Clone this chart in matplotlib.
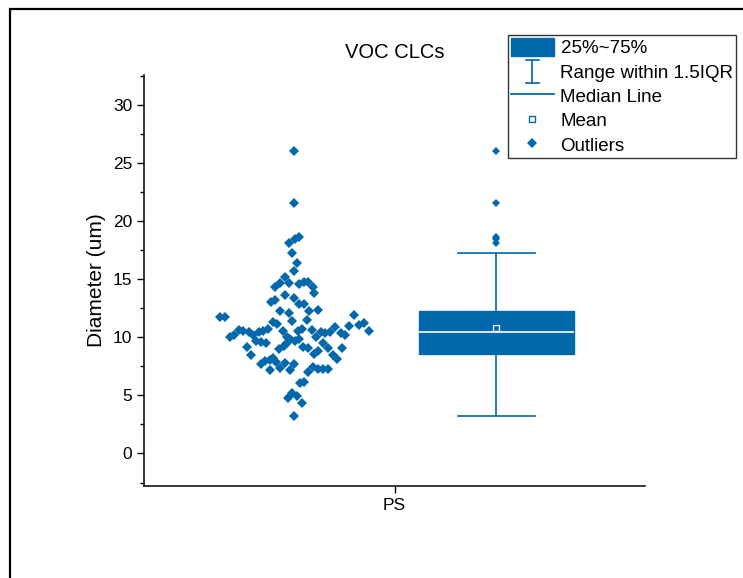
import matplotlib
matplotlib.use("Agg")
import matplotlib.pyplot as plt
import matplotlib.patches as mpatches
from matplotlib.lines import Line2D
from matplotlib.legend_handler import HandlerBase
import numpy as np

plt.rcParams['font.family'] = ['Liberation Sans', 'DejaVu Sans']

# data
category = "PS"
diameter = [
    26.08, 21.57, 18.61, 18.48, 18.10, 17.27, 16.44, 15.71, 15.23, 14.31,
    14.69, 14.66, 14.60, 14.74, 14.74, 14.37, 13.83, 13.68, 13.40, 13.02,
    13.23, 12.88, 12.88, 12.31, 12.07, 12.31, 12.37, 11.45, 11.53, 11.94,
    11.79, 11.79, 11.30, 11.16, 10.59, 10.59, 10.73, 10.65, 10.44, 10.35,
    10.44, 10.93, 10.35, 10.22, 11.02, 11.10, 11.21, 10.53, 10.65, 10.59,
    10.44, 10.24, 10.44, 10.59, 10.73, 10.07, 10.22, 9.72, 9.64, 9.49,
    10.07, 9.87, 9.72, 9.87, 10.01, 9.49, 9.10, 9.06, 9.21, 8.52,
    9.01, 9.29, 9.49, 9.21, 9.10, 8.58, 8.80, 8.52, 8.15, 7.72,
    7.94, 8.06, 8.24, 7.86, 7.23, 7.38, 7.77, 7.20, 7.72, 7.00,
    7.43, 7.29, 7.29, 7.29, 6.05, 6.14, 4.79, 5.19, 4.91, 4.36,
    3.27,
]
# horizontal spread of the data points (category units)
spread = [
    0.000, 0.000, 0.010, 0.002, -0.010, -0.005, 0.005, 0.000, -0.019, -0.038,
    -0.028, -0.010, 0.010, 0.020, 0.028, 0.038, 0.040, -0.019, 0.000, -0.046,
    -0.038, 0.010, 0.020, -0.028, -0.010, 0.030, 0.048, -0.005, 0.025, 0.120,
    -0.148, -0.139, -0.043, -0.035, -0.023, 0.007, 0.015, 0.035, 0.053, 0.062,
    0.072, 0.082, 0.093, 0.102, 0.110, 0.129, 0.139, 0.149, -0.110, -0.102,
    -0.091, -0.082, -0.071, -0.062, -0.053, -0.129, -0.120, -0.076, -0.066, -0.056,
    -0.015, -0.009, 0.002, 0.010, 0.043, 0.058, 0.068, 0.096, -0.095, -0.086,
    -0.030, -0.020, -0.015, 0.018, 0.028, 0.040, 0.048, 0.078, 0.086, -0.066,
    -0.058, -0.048, -0.042, -0.036, -0.048, -0.028, -0.019, -0.009, 0.000, 0.028,
    0.038, 0.048, 0.058, 0.068, 0.011, 0.020, -0.013, -0.005, 0.005, 0.015,
    0.000,
]

blue = '#0068AB'


class HandlerIBar(HandlerBase):
    # draws the "I" shaped whisker symbol
    def create_artists(self, legend, orig_handle, xdescent, ydescent,
                       width, height, fontsize, trans):
        cx = width / 2 - xdescent
        cy = height / 2 - ydescent
        h = 8.5
        c = 4.5
        kw = dict(color=blue, linewidth=1.2, transform=trans)
        return [Line2D([cx, cx], [cy - h, cy + h], **kw),
                Line2D([cx - c, cx + c], [cy - h, cy - h], **kw),
                Line2D([cx - c, cx + c], [cy + h, cy + h], **kw)]


fig = plt.figure(figsize=(7.43, 5.78), dpi=100)
ax = fig.add_axes([144/743, 1 - 486/578, 501/743, 411/578])

# page frame
fig.patches.append(mpatches.Rectangle((10/743, -0.1), 1.2, 1 - 9/578 + 0.1,
                                      transform=fig.transFigure, fill=False,
                                      edgecolor='black', linewidth=1.6))

y = np.array(diameter)
x = 0.8 + np.array(spread)
ax.plot(x, y, linestyle='none', marker='D', markersize=4.8,
        color=blue, markeredgewidth=0)

bp = ax.boxplot([y], positions=[1.203], widths=0.309, whis=1.5,
                patch_artist=True, showmeans=True, capwidths=[0.153],
                boxprops=dict(facecolor=blue, edgecolor=blue, linewidth=1),
                medianprops=dict(color='white', linewidth=1.2),
                whiskerprops=dict(color=blue, linewidth=1.2),
                capprops=dict(color=blue, linewidth=1.2),
                meanprops=dict(marker='s', markersize=4.5, markerfacecolor=blue,
                               markeredgecolor='white', markeredgewidth=0.9),
                flierprops=dict(marker='D', markersize=4.2, markerfacecolor=blue,
                                markeredgewidth=0, linestyle='none'))

ax.set_xlim(0.5, 1.5)
ax.set_ylim(-2.8, 32.6)
ax.set_xticks([1])
ax.set_xticklabels([category])
ax.set_yticks(np.arange(0, 31, 5))
ax.set_yticks(np.arange(-2.5, 32.6, 2.5), minor=True)
ax.tick_params(axis='both', which='major', direction='out', length=5,
               width=1, labelsize=12.5)
ax.tick_params(axis='y', which='minor', direction='out', length=3, width=1)
for s in ['top', 'right']:
    ax.spines[s].set_visible(False)
for s in ['left', 'bottom']:
    ax.spines[s].set_linewidth(1.1)

ax.set_ylabel('Diameter (um)', fontsize=15, labelpad=5)
ax.set_title('VOC CLCs', fontsize=14.5, pad=12)

# legend
ibar = object()
handles = [
    mpatches.Patch(facecolor=blue, edgecolor=blue),
    ibar,
    Line2D([], [], color=blue, linewidth=1.3),
    Line2D([], [], linestyle='none', marker='s', markersize=4,
           markerfacecolor='white', markeredgecolor=blue, markeredgewidth=1),
    Line2D([], [], linestyle='none', marker='D', markersize=4.8,
           color=blue, markeredgewidth=0),
]
labels = ['25%~75%', 'Range within 1.5IQR', 'Median Line', 'Mean', 'Outliers']
leg = fig.legend(handles, labels, loc='upper left',
                 bbox_to_anchor=(508/743, 1 - 35/578), fontsize=13.5,
                 frameon=True, fancybox=False, shadow=False,
                 handler_map={ibar: HandlerIBar()},
                 handlelength=2.3, handleheight=1.15, handletextpad=0.35,
                 labelspacing=0.25, borderpad=0.15, borderaxespad=0)
leg.get_frame().set_edgecolor('black')
leg.get_frame().set_linewidth(1)

fig.savefig('out.png', dpi=100)
